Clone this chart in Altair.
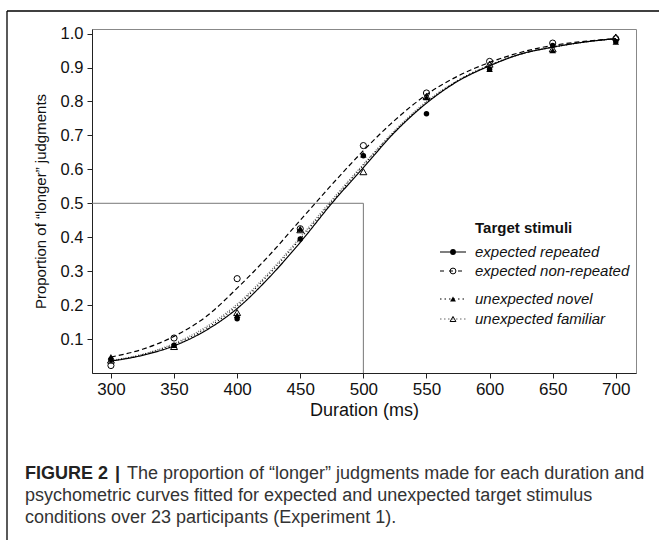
import altair as alt
import pandas as pd

# ---- observed proportions (markers) ----
durations = [300, 350, 400, 450, 500, 550, 600, 650, 700]
expected_repeated = [0.040, 0.082, 0.160, 0.395, 0.640, 0.764, 0.895, 0.965, 0.977]
expected_nonrepeated = [0.022, 0.103, 0.278, 0.425, 0.670, 0.825, 0.918, 0.972, 0.985]
unexpected_novel = [0.048, 0.082, 0.170, 0.425, 0.643, 0.812, 0.895, 0.950, 0.975]
unexpected_familiar = [0.038, 0.078, 0.178, 0.422, 0.593, 0.815, 0.910, 0.955, 0.990]

# ---- fitted psychometric curves ----
curve_durations = [300, 325, 350, 375, 400, 425, 450, 475, 500, 525, 550, 575, 600, 625, 650, 675, 700]
fit_expected_repeated = [0.035, 0.052, 0.080, 0.125, 0.190, 0.280, 0.385, 0.500, 0.605, 0.710, 0.795, 0.860, 0.905, 0.940, 0.960, 0.975, 0.985]
fit_expected_nonrepeated = [0.047, 0.070, 0.108, 0.165, 0.250, 0.345, 0.450, 0.555, 0.655, 0.745, 0.820, 0.875, 0.915, 0.945, 0.965, 0.977, 0.985]
fit_unexpected_novel = [0.036, 0.054, 0.084, 0.130, 0.198, 0.290, 0.395, 0.505, 0.612, 0.712, 0.797, 0.862, 0.907, 0.940, 0.960, 0.975, 0.985]
fit_unexpected_familiar = [0.037, 0.055, 0.087, 0.135, 0.203, 0.295, 0.400, 0.510, 0.615, 0.715, 0.800, 0.862, 0.907, 0.940, 0.960, 0.975, 0.985]

x_ticks = [300, 350, 400, 450, 500, 550, 600, 650, 700]
y_ticks = [0.1, 0.2, 0.3, 0.4, 0.5, 0.6, 0.7, 0.8, 0.9, 1.0]
ref_duration = 500
ref_proportion = 0.5

legend_title = "Target stimuli"
legend_labels = ["expected repeated", "expected non-repeated", "unexpected novel", "unexpected familiar"]
caption_bold = ["FIGURE 2", "|"]
caption_lines = [
    "The proportion of \u201clonger\u201d judgments made for each duration and",
    "psychometric curves fitted for expected and unexpected target stimulus",
    "conditions over 23 participants (Experiment 1).",
]

FONT = "Liberation Sans"
W, H = 544, 344

xscale = alt.Scale(domain=[285, 716], nice=False, zero=False)
yscale = alt.Scale(domain=[0, 1.0135], nice=False, zero=False)

xaxis = alt.Axis(values=x_ticks, format="d", title="Duration (ms)", grid=False,
                 tickSize=5, labelPadding=3, titlePadding=4,
                 labelFont=FONT, labelFontSize=17, labelColor="#111",
                 titleFont=FONT, titleFontSize=18, titleFontWeight="normal", titleColor="#111",
                 domainColor="#222", tickColor="#222")
yaxis = alt.Axis(values=y_ticks, format=".1f", title="Proportion of \u201clonger\u201d judgments", grid=False,
                 tickSize=5, labelPadding=4, titlePadding=12,
                 labelFont=FONT, labelFontSize=16.5, labelColor="#111",
                 titleFont=FONT, titleFontSize=15, titleFontWeight="normal", titleColor="#111",
                 domainColor="#222", tickColor="#222")

pts = pd.DataFrame({"d": durations, "er": expected_repeated, "en": expected_nonrepeated,
                    "un": unexpected_novel, "uf": unexpected_familiar})
crv = pd.DataFrame({"d": curve_durations, "er": fit_expected_repeated, "en": fit_expected_nonrepeated,
                    "un": fit_unexpected_novel, "uf": fit_unexpected_familiar})

base_c = alt.Chart(crv)
base_p = alt.Chart(pts)

# reference lines at 0.5 / 500 ms
ref = alt.Chart(pd.DataFrame({"d": [ref_duration], "p": [ref_proportion]}))
ref_h = ref.mark_rule(color="#777", strokeWidth=1).encode(
    x=alt.X("d:Q", scale=xscale, axis=xaxis), x2=alt.value(0),
    y=alt.Y("p:Q", scale=yscale, axis=yaxis))
ref_v = ref.mark_rule(color="#777", strokeWidth=1).encode(
    x=alt.X("d:Q", scale=xscale, axis=xaxis),
    y=alt.Y("p:Q", scale=yscale, axis=yaxis), y2=alt.value(H))

def curve(col, dash, color="#000", width=1.2):
    return base_c.mark_line(color=color, strokeWidth=width, strokeDash=dash, interpolate="monotone").encode(
        x=alt.X("d:Q", scale=xscale, axis=xaxis), y=alt.Y(f"{col}:Q", scale=yscale, axis=yaxis))

c_er = curve("er", [1, 0])
c_en = curve("en", [5, 3])
c_un = curve("un", [1, 2.5])
c_uf = curve("uf", [1, 1.5], color="#777", width=1.3)

def points(col, shape, filled, size):
    return base_p.mark_point(shape=shape, filled=filled, size=size, color="#000",
                             strokeWidth=1, opacity=1).encode(
        x=alt.X("d:Q", scale=xscale, axis=xaxis), y=alt.Y(f"{col}:Q", scale=yscale, axis=yaxis))

p_uf = points("uf", "triangle-up", False, 48)
p_en = points("en", "circle", False, 38)
p_un = points("un", "triangle-up", True, 42)
p_er = points("er", "circle", True, 30)

# ---- legend (drawn inside the plot) ----
one = alt.Chart(pd.DataFrame({"k": [0]}))
LX1, LX2, LM, LT = 348, 374, 361, 383
rows_y = [223, 242, 270, 290]
legend_layers = [
    one.mark_text(text=legend_title, font=FONT, fontSize=15, fontWeight="bold", align="left",
                  baseline="middle", color="#111").encode(x=alt.value(LT), y=alt.value(199))
]
styles = [([1, 0], "#000", "circle", True), ([4, 5], "#000", "circle", False),
          ([1.5, 3], "#000", "triangle-up", True), ([1.5, 2.5], "#666", "triangle-up", False)]
for lab, yy, (dash, col, shp, fil) in zip(legend_labels, rows_y, styles):
    legend_layers.append(one.mark_rule(color=col, strokeWidth=1.2, strokeDash=dash).encode(
        x=alt.value(LX1), x2=alt.value(LX2), y=alt.value(yy)))
    legend_layers.append(one.mark_point(shape=shp, filled=fil, size=34, color="#000", strokeWidth=1,
                                        opacity=1).encode(x=alt.value(LM), y=alt.value(yy)))
    legend_layers.append(one.mark_text(text=lab, font=FONT, fontSize=15, fontStyle="italic",
                                       align="left", baseline="middle", color="#111").encode(
        x=alt.value(LT), y=alt.value(yy)))

# ---- outer frame and caption ----
frame_top = one.mark_rule(color="#000", strokeWidth=1.3).encode(
    x=alt.value(-85), x2=alt.value(700), y=alt.value(-18))
frame_left = one.mark_rule(color="#000", strokeWidth=1.3).encode(
    x=alt.value(-85), y=alt.value(-18), y2=alt.value(520))
cap_y = [445, 467, 489]
CAP_FS = 18
caption_layers = [
    one.mark_text(text=caption_bold[0], font=FONT, fontSize=CAP_FS, fontWeight="bold", align="left",
                  baseline="middle", color="#222").encode(x=alt.value(-67), y=alt.value(cap_y[0])),
    one.mark_text(text=caption_bold[1], font=FONT, fontSize=CAP_FS, fontWeight="bold", align="left",
                  baseline="middle", color="#222").encode(x=alt.value(23), y=alt.value(cap_y[0])),
    one.mark_text(text=caption_lines[0], font=FONT, fontSize=CAP_FS, align="left",
                  baseline="middle", color="#333").encode(x=alt.value(35), y=alt.value(cap_y[0])),
    one.mark_text(text=caption_lines[1], font=FONT, fontSize=CAP_FS, align="left",
                  baseline="middle", color="#333").encode(x=alt.value(-67), y=alt.value(cap_y[1])),
    one.mark_text(text=caption_lines[2], font=FONT, fontSize=CAP_FS, align="left",
                  baseline="middle", color="#333").encode(x=alt.value(-67), y=alt.value(cap_y[2])),
]

chart = alt.layer(
    ref_h, ref_v, c_uf, c_un, c_en, c_er, p_uf, p_en, p_un, p_er,
    *legend_layers, frame_top, frame_left, *caption_layers
).properties(
    width=W, height=H,
    padding={"left": 92, "top": 29, "right": 23, "bottom": 167},
    autosize=alt.AutoSizeParams(type="none"),
    background="white",
).configure_view(stroke="#888", strokeWidth=1)

chart.save("out.html", embed_options={"renderer": "svg", "actions": False})
